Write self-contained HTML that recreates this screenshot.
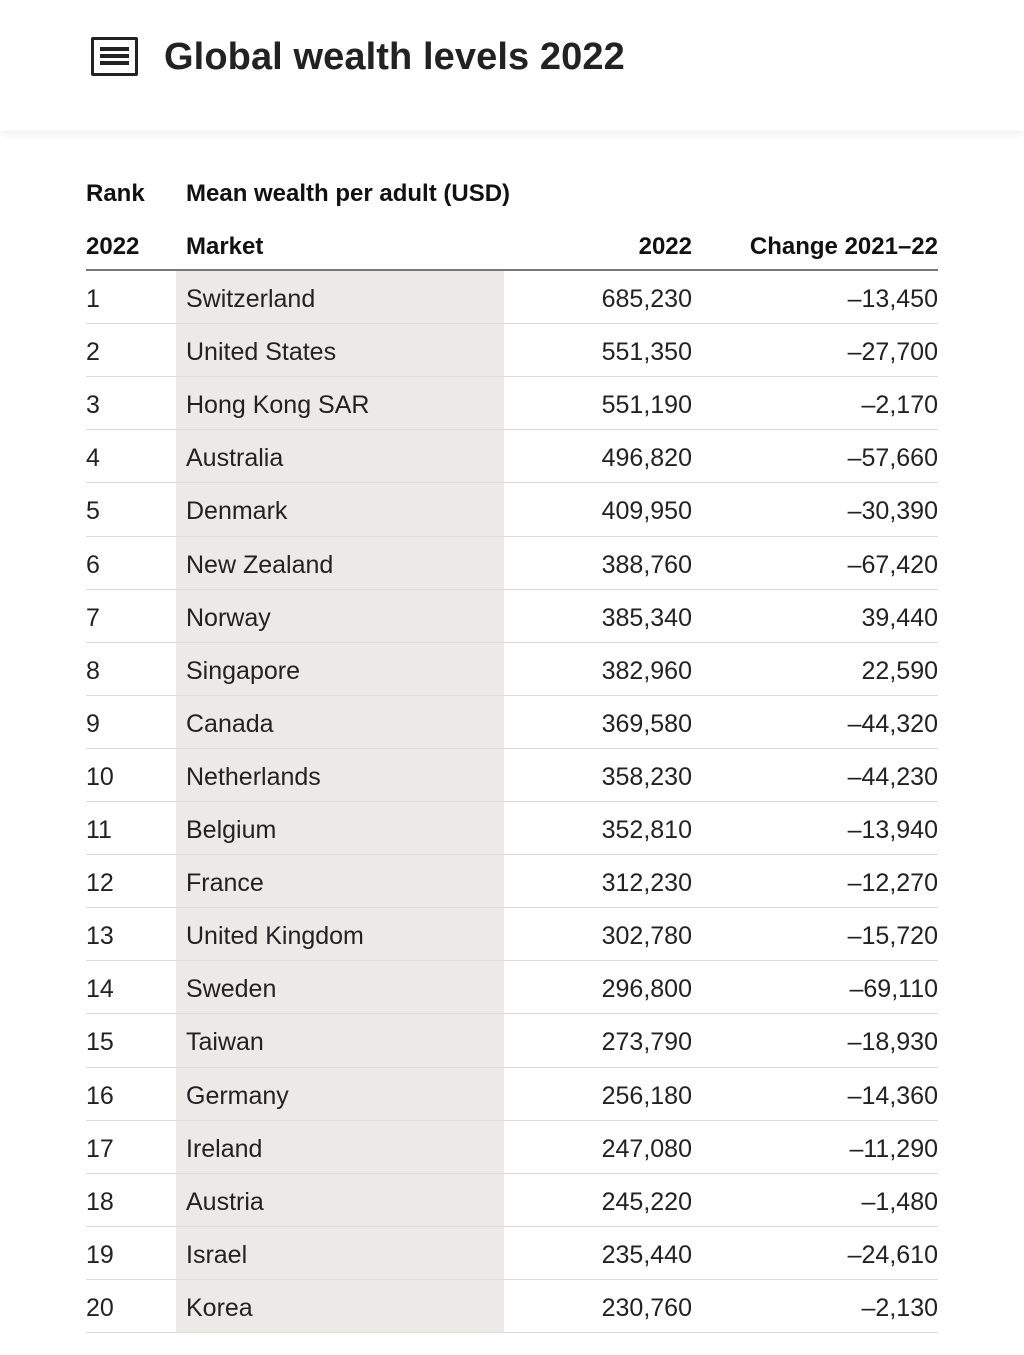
<!DOCTYPE html>
<html><head><meta charset="utf-8">
<style>
body{margin:0;width:1024px;height:1355px;background:#fff;font-family:"Liberation Sans",sans-serif;color:#1c1c1c;position:relative;overflow:hidden}
#hdr{position:absolute;left:0;top:0;width:1024px;height:131px;background:#fff;box-shadow:0 3px 8px rgba(0,0,0,0.07)}
#icon{position:absolute;left:91px;top:37px;width:41px;height:33px;border:3px solid #222;border-radius:2px}
#icon i{position:absolute;left:6px;width:29px;height:4px;background:#222}
#title{position:absolute;left:164px;top:36px;font-size:38px;font-weight:bold;color:#222;letter-spacing:0.1px}
.h{position:absolute;font-size:24px;font-weight:bold;color:#111}
#grey{position:absolute;left:176px;top:270px;width:328px;height:1063px;background:#ebeae6}
.line{position:absolute;left:86px;width:852px;height:1px;background:#dcdcdc}
.cell{position:absolute;font-size:25px;color:#222;line-height:53px}
</style></head><body>
<div id="hdr">
<div id="icon"><i style="top:7px"></i><i style="top:14px"></i><i style="top:21px"></i></div>
<div id="title">Global wealth levels 2022</div>
</div>
<div class="h" style="left:86px;top:180px">Rank</div>
<div class="h" style="left:186px;top:180px">Mean wealth per adult (USD)</div>
<div class="h" style="left:86px;top:233px">2022</div>
<div class="h" style="left:186px;top:233px">Market</div>
<div class="h" style="right:332px;top:233px">2022</div>
<div class="h" style="right:86px;top:233px">Change 2021–22</div>
<div id="grey"></div>
<div class="line" style="top:269px;height:2px;background:#777"></div>
<div id="rows"></div>
<script>
const markets=["Switzerland","United States","Hong Kong SAR","Australia","Denmark","New Zealand","Norway","Singapore","Canada","Netherlands","Belgium","France","United Kingdom","Sweden","Taiwan","Germany","Ireland","Austria","Israel","Korea"];
const wealth=[685230,551350,551190,496820,409950,388760,385340,382960,369580,358230,352810,312230,302780,296800,273790,256180,247080,245220,235440,230760];
const change=[-13450,-27700,-2170,-57660,-30390,-67420,39440,22590,-44320,-44230,-13940,-12270,-15720,-69110,-18930,-14360,-11290,-1480,-24610,-2130];
const fmt=v=>(v<0?"–":"")+Math.abs(v).toLocaleString("en-US");
const root=document.getElementById('rows');
const top0=271,rh=53.1;
markets.forEach((m,i)=>{
  const y=top0+i*rh;
  const mk=(txt,style,name)=>{const d=document.createElement('div');d.className='cell';d.style.cssText=style+';top:'+(y+2)+'px';d.textContent=txt;
  
  
  root.appendChild(d);};
  mk(String(i+1),'left:86px','rank-cell');
  mk(m,'left:186px','market-cell');
  mk(fmt(wealth[i]),'right:332px','wealth-cell');
  mk(fmt(change[i]),'right:86px','change-cell');
  const l=document.createElement('div');l.className='line';l.style.top=(y+rh-1)+'px';
  
  
  root.appendChild(l);
});
</script>
</body></html>
